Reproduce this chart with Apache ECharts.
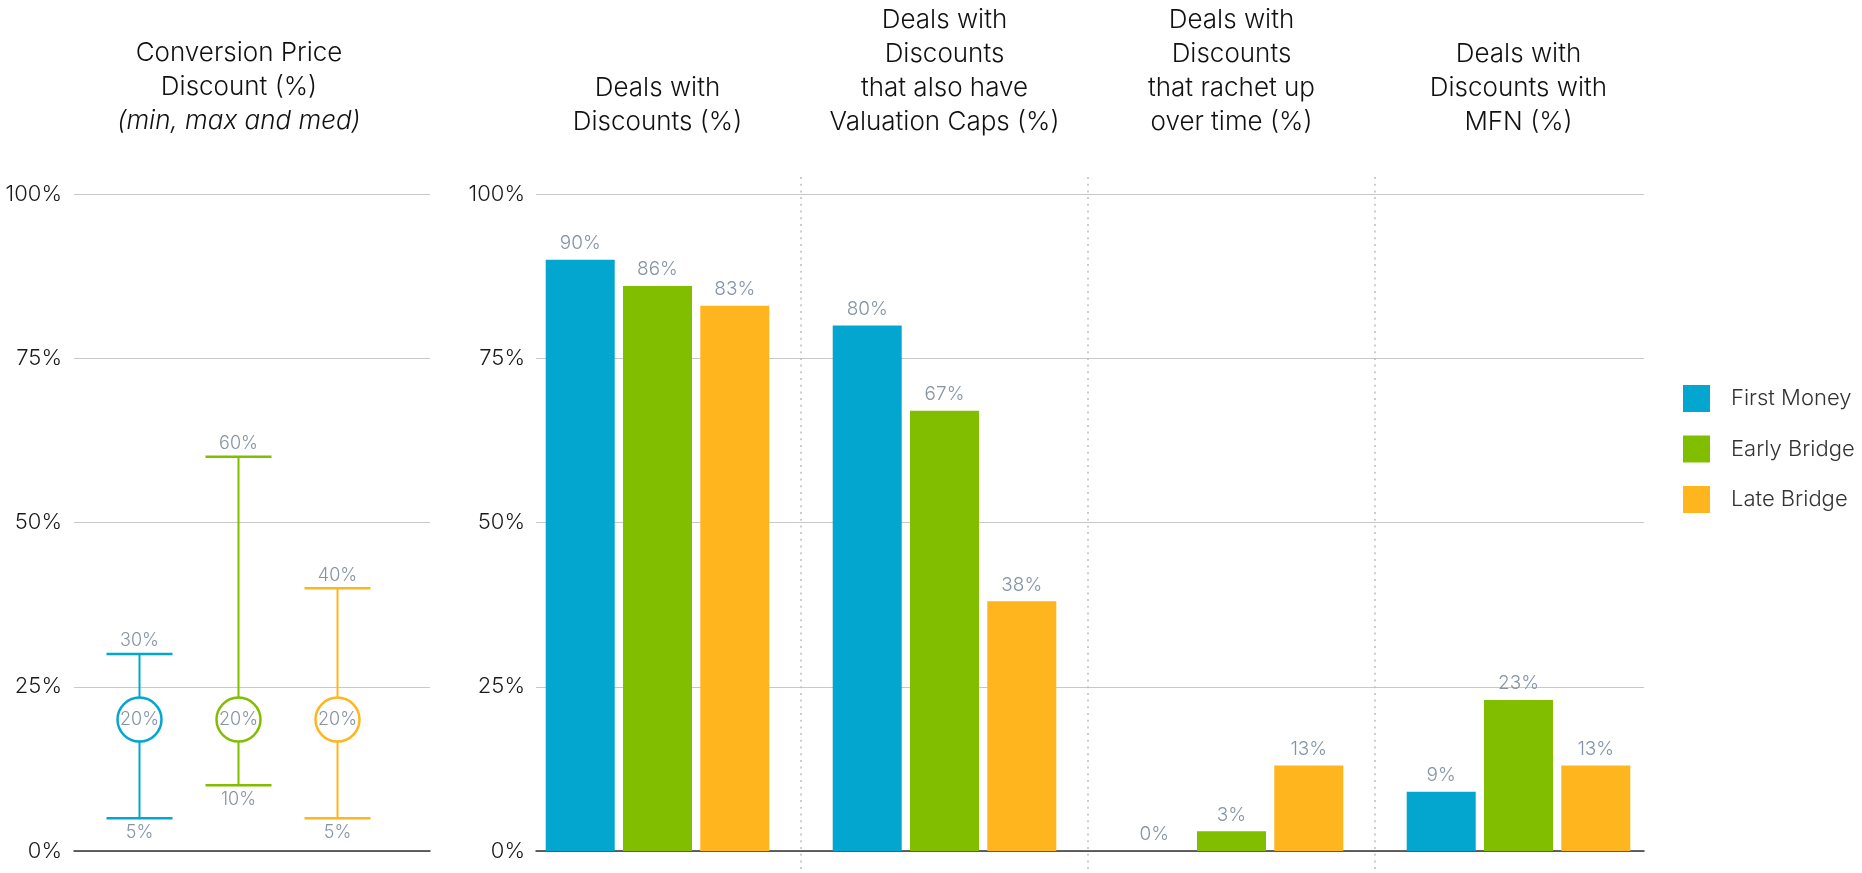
<!DOCTYPE html>
<html>
<head>
<meta charset="utf-8">
<title>Deals with Discounts</title>
<script src="https://cdn.jsdelivr.net/npm/echarts@6/dist/echarts.min.js"></script>
<style>
  html, body { margin: 0; padding: 0; background: #fff; }
  #chart { width: 1862px; height: 873px; }
</style>
</head>
<body>
<div id="chart"></div>
<script>
// series names and colours (shared by both panels)
const seriesNames = ['First Money', 'Early Bridge', 'Late Bridge']
const colors = ['#02a6ce', '#82be00', '#ffb51e']

// left panel: conversion price discount (min, max, med)
const spreadMin = [5, 10, 5]
const spreadMax = [30, 60, 40]
const spreadMed = [20, 20, 20]

// right panel: one category per question
const dealCategories = [
  'Deals with\nDiscounts (%)',
  'Deals with\nDiscounts\nthat also have\nValuation Caps (%)',
  'Deals with\nDiscounts\nthat rachet up\nover time (%)',
  'Deals with\nDiscounts with\nMFN (%)'
]
const firstMoney = [90, 80, 0, 9]
const earlyBridge = [86, 67, 3, 23]
const lateBridge = [83, 38, 13, 13]

// y ticks of both panels
const yTicks = [0, 25, 50, 75, 100]

const fontFamily = 'Inter, Roboto, "Liberation Sans", sans-serif'
const labelColor = '#8494a5'
const gridColor = '#c8c8c8'

const chartInstance = echarts.init(document.getElementById('chart'))

// a value y axis, shown (labels + grid lines) or hidden
function yAxisFor(gridIndex, show, margin) {
  return {
    type: 'value',
    gridIndex: gridIndex,
    min: yTicks[0],
    max: yTicks[yTicks.length - 1],
    interval: yTicks[1] - yTicks[0],
    show: show,
    axisLine: { show: false },
    axisTick: { show: false },
    axisLabel: { formatter: '{value}%', fontSize: 22, color: '#1a1a1a', fontWeight: 300, margin: margin },
    splitLine: { lineStyle: { color: gridColor, width: 1 } }
  }
}

// hidden x axis that only draws the dark 0% base line
function baseLineAxis(gridIndex) {
  return {
    type: 'value',
    gridIndex: gridIndex,
    min: 0,
    max: 1,
    axisLine: { show: true, lineStyle: { color: '#333', width: 1.5 } },
    axisTick: { show: false },
    axisLabel: { show: false },
    splitLine: { show: false }
  }
}

// whisker data: [index, min, max, med]
const spreadData = spreadMin.map((v, i) => [i, v, spreadMax[i], spreadMed[i]])

function renderSpread(params, api) {
  const idx = api.value(0)
  const x = api.coord([idx, 0])[0]
  const yMin = api.coord([idx, api.value(1)])[1]
  const yMax = api.coord([idx, api.value(2)])[1]
  const yMed = api.coord([idx, api.value(3)])[1]
  const color = colors[params.dataIndex]
  const half = 33 // half of the cap width
  const font = '300 18px ' + fontFamily
  return {
    type: 'group',
    children: [
      { type: 'line', shape: { x1: x, y1: yMin, x2: x, y2: yMax }, style: { stroke: color, lineWidth: 2 } },
      { type: 'line', shape: { x1: x - half, y1: yMax, x2: x + half, y2: yMax }, style: { stroke: color, lineWidth: 2.5 } },
      { type: 'line', shape: { x1: x - half, y1: yMin, x2: x + half, y2: yMin }, style: { stroke: color, lineWidth: 2.5 } },
      { type: 'circle', shape: { cx: x, cy: yMed, r: 22 }, style: { fill: '#fff', stroke: color, lineWidth: 2.5 } },
      { type: 'text', style: { text: api.value(2) + '%', x: x, y: yMax - 4, align: 'center', verticalAlign: 'bottom', fill: labelColor, font: font } },
      { type: 'text', style: { text: api.value(1) + '%', x: x, y: yMin + 5, align: 'center', verticalAlign: 'top', fill: labelColor, font: font } },
      { type: 'text', style: { text: api.value(3) + '%', x: x, y: yMed, align: 'center', verticalAlign: 'middle', fill: labelColor, font: font } }
    ]
  }
}

function barSeries(name, data, color) {
  return {
    name: name,
    type: 'bar',
    xAxisIndex: 3,
    yAxisIndex: 3,
    data: data,
    barWidth: 69,
    barGap: '12%',
    itemStyle: { color: color },
    label: {
      show: true,
      position: 'top',
      distance: 7,
      formatter: '{c}%',
      color: labelColor,
      fontSize: 19,
      fontWeight: 300
    }
  }
}

const option = {
  animation: false,
  textStyle: { fontFamily: fontFamily },
  title: {
    text: 'Conversion Price\nDiscount (%)\n{i|(min, max and med)}',
    left: 239,
    top: 36,
    padding: 0,
    textAlign: 'center',
    textStyle: {
      fontSize: 26,
      fontWeight: 300,
      lineHeight: 34,
      color: '#111',
      rich: { i: { fontSize: 26, fontWeight: 300, fontStyle: 'italic', lineHeight: 34, color: '#111' } }
    }
  },
  legend: {
    data: seriesNames,
    orient: 'vertical',
    left: 1683,
    top: 385,
    padding: 0,
    icon: 'rect',
    itemWidth: 27,
    itemHeight: 27,
    itemGap: 23.5,
    selectedMode: false,
    textStyle: { fontSize: 22, fontWeight: 300, color: '#333', padding: [0, 0, 0, 16] }
  },
  grid: [
    { left: 74, width: 356, top: 194, bottom: 22 },   // left grid lines
    { left: 90, width: 297, top: 194, bottom: 22 },   // left whiskers
    { left: 536, width: 1108, top: 194, bottom: 22 }, // right grid lines
    { left: 514, width: 1148, top: 194, bottom: 22 }, // right bars
    { left: 514, width: 1148, top: 177, bottom: 0 }   // dotted separators
  ],
  xAxis: [
    baseLineAxis(0),
    { type: 'category', gridIndex: 1, data: seriesNames, show: false },
    baseLineAxis(2),
    {
      type: 'category',
      gridIndex: 3,
      data: dealCategories,
      position: 'top',
      axisLine: { show: false },
      axisTick: { show: false },
      axisLabel: { interval: 0, fontSize: 26, fontWeight: 300, lineHeight: 34, color: '#111', margin: 55 },
      splitLine: { show: false }
    },
    {
      type: 'value',
      gridIndex: 4,
      min: 0,
      max: dealCategories.length,
      interval: 1,
      axisLine: { show: false },
      axisTick: { show: false },
      axisLabel: { show: false },
      splitLine: {
        show: true,
        showMinLine: false,
        showMaxLine: false,
        lineStyle: { color: '#bdbdbd', width: 1.5, type: [2, 4.7] }
      }
    }
  ],
  yAxis: [
    yAxisFor(0, true, 12),
    yAxisFor(1, false, 0),
    yAxisFor(2, true, 11),
    yAxisFor(3, false, 0),
    { type: 'value', gridIndex: 4, min: 0, max: 1, show: false }
  ],
  series: [
    {
      type: 'custom',
      xAxisIndex: 1,
      yAxisIndex: 1,
      data: spreadData,
      renderItem: renderSpread
    },
    barSeries(seriesNames[0], firstMoney, colors[0]),
    barSeries(seriesNames[1], earlyBridge, colors[1]),
    barSeries(seriesNames[2], lateBridge, colors[2])
  ]
}

chartInstance.setOption(option)
</script>
</body>
</html>
